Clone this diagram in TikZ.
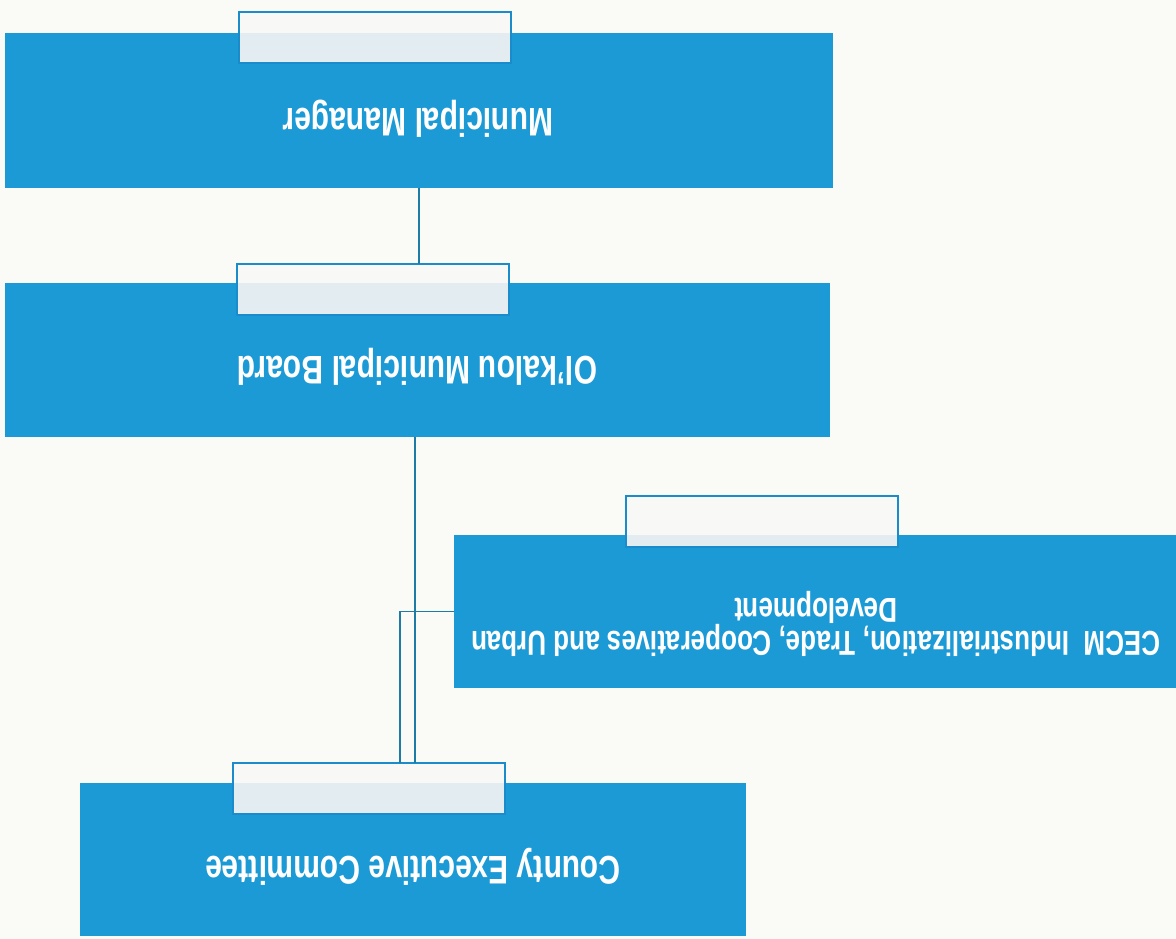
\documentclass[tikz,border=0pt]{standalone}
\usepackage{fontspec}
\setmainfont{Liberation Sans}
\usetikzlibrary{calc}
\definecolor{boxblue}{HTML}{1B9AD6}
\definecolor{tabline}{HTML}{1A8CCB}
\definecolor{tabtop}{HTML}{F8F9F6}
\definecolor{tablow}{HTML}{E3EDF1}
\definecolor{conn}{HTML}{1E7BA6}
\definecolor{paper}{HTML}{FAFAF6}
\begin{document}
\begin{tikzpicture}[x=1pt,y=-1pt,
  box/.style={fill=boxblue, inner sep=0pt, outer sep=0pt},
  tab/.style={draw=tabline, line width=2pt, fill=tabtop, inner sep=0pt, outer sep=0pt,
    minimum height=51pt, minimum width=272pt},
  lbl/.style={text=white, inner sep=0pt, rotate=180, yscale=1.33, align=center,
    font=\fontsize{30}{26}\selectfont\bfseries},
  lblsmall/.style={lbl, font=\fontsize{26}{23.5}\selectfont\bfseries},
  conn/.style={draw=conn, line width=1.8pt}]
\fill[paper] (0,0) rectangle (1176,939);
\useasboundingbox (0,0) rectangle (1176,939);

% boxes
\node[box, minimum width=828pt, minimum height=155pt] (mm) at (419,110.5) {};
\node[box, minimum width=825pt, minimum height=154pt] (bd) at (417.5,360) {};
\node[box, minimum width=722pt, minimum height=153pt] (ce) at (815,611.5) {};
\node[box, minimum width=666pt, minimum height=153pt] (cc) at (413,859.5) {};

% tabs
\node[tab] (t1) at (375,38) {};
\node[tab] (t2) at (372.5,289) {};
\node[tab] (t3) at (761.5,521) {};
\node[tab] (t4) at (369,788.5) {};
\fill[tablow] ([xshift=1pt,yshift=1pt]t1.south west) rectangle ([xshift=-1pt]t1.east |- mm.north);
\fill[tablow] ([xshift=1pt,yshift=1pt]t2.south west) rectangle ([xshift=-1pt]t2.east |- bd.north);
\fill[tablow] ([xshift=1pt,yshift=1pt]t3.south west) rectangle ([xshift=-1pt]t3.east |- ce.north);
\fill[tablow] ([xshift=1pt,yshift=1pt]t4.south west) rectangle ([xshift=-1pt]t4.east |- cc.north);

% labels (the whole sheet is upside down)
\node[lbl] (lmm) at (418,119) {Municipal Manager};
\node[lbl] (lbd) at (417,367) {Ol'kalou Municipal Board};
\node[lbl] (lcc) at (413,867) {County Executive Committee};
\node[lblsmall] (lce) at (816,624) {CECM\ \ Industrialization, Trade, Cooperatives and Urban\\Development};

% connectors
\draw[conn] (mm.south) -- (mm.south |- t2.north);
\draw[conn] ([xshift=-2.5pt]bd.south) -- ([xshift=-2.5pt]bd.south |- t4.north);
\draw[conn] (ce.west) -| ([xshift=31pt]t4.north);
\end{tikzpicture}
\end{document}
